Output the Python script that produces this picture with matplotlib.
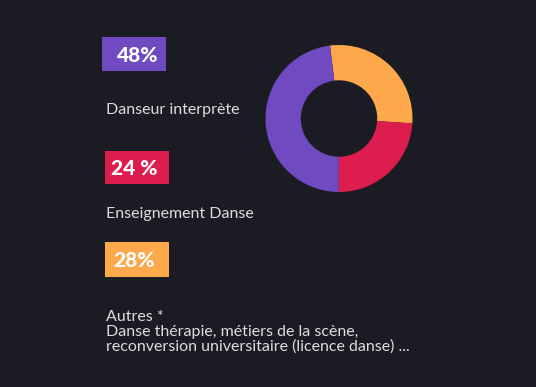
import matplotlib
matplotlib.use("Agg")
import matplotlib.pyplot as plt
from matplotlib.patches import Rectangle

# Données
categories = ["Autres", "Enseignement Danse", "Danseur interprète"]
valeurs = [28, 24, 48]
couleurs = ["#fda84a", "#dd1d4e", "#6f4ac0"]
etiquettes_pct = ["48%", "24 %", "28%"]
textes = ["Danseur interprète", "Enseignement Danse",
          "Autres *\nDanse thérapie, métiers de la scène,\nreconversion universitaire (licence danse) ..."]
couleurs_boites = ["#6f4ac0", "#dd1d4e", "#fda84a"]

fond = "#1b1b23"
W, H = 536, 387

fig = plt.figure(figsize=(W / 100, H / 100), dpi=100, facecolor=fond)

# Calque en pixels pour les boîtes et textes
ov = fig.add_axes([0, 0, 1, 1])
ov.set_xlim(0, W)
ov.set_ylim(H, 0)
ov.axis("off")

boites = [(102, 37, 64, 34), (105, 151, 64, 33), (105, 242, 64, 35)]
centres_txt = [137.5, 134, 133.5]

for (x, y, w, h), c, lab, cx in zip(boites, couleurs_boites, etiquettes_pct, centres_txt):
    ov.add_patch(Rectangle((x, y), w, h, facecolor=c, edgecolor="none"))
    ov.text(cx, y + h / 2 + 1, lab, color="white", fontsize=15, fontweight="black",
            family="Lato", ha="center", va="center")

ov.text(106, 110, textes[0], color="#dcdce0", fontsize=11.5, family="Lato",
        ha="left", va="center")
ov.text(106, 214, textes[1], color="#dcdce0", fontsize=11.5, family="Lato",
        ha="left", va="center")
ov.text(106, 310, textes[2], color="#dcdce0", fontsize=11.5, family="Lato",
        ha="left", va="top", linespacing=1.05)

# Donut
cx, cy, r = 339, 118.5, 73.5
ax = fig.add_axes([(cx - r) / W, 1 - (cy + r) / H, 2 * r / W, 2 * r / H])
ax.pie(valeurs, colors=couleurs, startangle=97, counterclock=False,
       wedgeprops=dict(width=0.48, edgecolor="none"), radius=1)
ax.set_xlim(-1, 1)
ax.set_ylim(-1, 1)
ax.set_aspect("equal")
ax.axis("off")

fig.savefig("out.png", dpi=100, facecolor=fond)
